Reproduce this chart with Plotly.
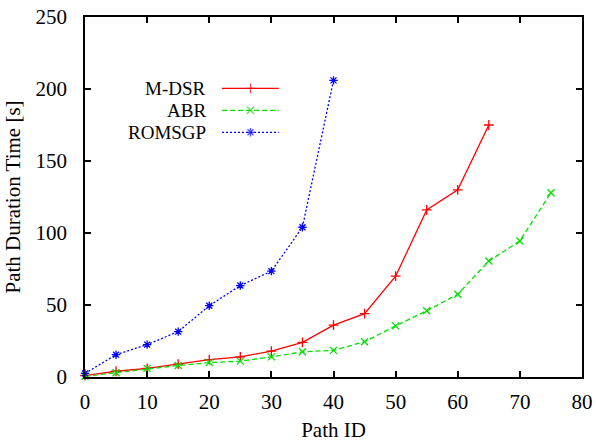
import plotly.graph_objects as go

path_id_mdsr = [0, 5, 10, 15, 20, 25, 30, 35, 40, 45, 50, 55, 60, 65]
mdsr = [1, 4, 6, 9, 12, 14, 18, 24, 36, 44, 70, 116, 130, 175]

path_id_abr = [0, 5, 10, 15, 20, 25, 30, 35, 40, 45, 50, 55, 60, 65, 70, 75]
abr = [0.5, 3, 6, 8, 10, 11, 14, 17.5, 18.5, 24.5, 35.5, 46, 57.5, 80.5, 94.5, 128]

path_id_romsgp = [0, 5, 10, 15, 20, 25, 30, 35, 40]
romsgp = [2.5, 15.5, 22.5, 31.5, 49.5, 63.5, 73.5, 104, 206]

series_names = ["M-DSR", "ABR", "ROMSGP"]
x_ticks = [0, 10, 20, 30, 40, 50, 60, 70, 80]
y_ticks = [0, 50, 100, 150, 200, 250]

FONT = "Liberation Serif"
FS = 21
KEY_FS = 19
colors = ["#ff0000", "#00e000", "#0000ff"]
dashes = ["solid", "5px,3px", "2px,2px"]
symbols = ["cross-thin-open", "x-thin-open", "asterisk-open"]

fig = go.Figure()
datasets = [(path_id_mdsr, mdsr), (path_id_abr, abr), (path_id_romsgp, romsgp)]
for (xs, ys), name, c, d, s in zip(datasets, series_names, colors, dashes, symbols):
    fig.add_trace(go.Scatter(
        x=xs, y=ys, name=name, mode="lines+markers",
        line=dict(color=c, width=1.3, dash=d),
        marker=dict(symbol=s, size=7, color=c, line=dict(color=c, width=1.3)),
        cliponaxis=False, showlegend=False,
    ))

# custom gnuplot-style key (text on left, sample on right)
key_y = [0.8019, 0.7408, 0.6797]
lx0, lxm, lx1 = 0.2757, 0.333, 0.390
for name, c, d, s, ky in zip(series_names, colors, dashes, symbols, key_y):
    fig.add_trace(go.Scatter(
        x=[lx0, lxm, lx1], y=[ky, ky, ky], mode="lines+markers",
        line=dict(color=c, width=1.3, dash=d),
        marker=dict(symbol=s, size=[0, 7, 0], color=c, line=dict(color=c, width=1.3)),
        xaxis="x2", yaxis="y2", showlegend=False, hoverinfo="skip",
    ))
    fig.add_annotation(
        x=0.2475, y=ky, xref="paper", yref="paper", text=name,
        showarrow=False, xanchor="right", yanchor="middle",
        font=dict(family=FONT, size=KEY_FS, color="black"),
    )

axis_common = dict(
    showline=True, linecolor="black", linewidth=1.5, mirror="allticks",
    ticks="inside", ticklen=6, tickwidth=1.5, tickcolor="black",
    showgrid=False, zeroline=False, automargin=False,
    tickfont=dict(family=FONT, size=FS, color="black"),
)

fig.update_layout(
    width=596, height=442,
    margin=dict(l=85, r=14, t=17, b=65),
    paper_bgcolor="white", plot_bgcolor="white",
    font=dict(family=FONT, size=FS, color="black"),
    xaxis=dict(range=[0, 80], tickvals=x_ticks, ticklabelstandoff=5, **axis_common,
               title=dict(text="Path ID", font=dict(family=FONT, size=FS), standoff=10)),
    yaxis=dict(range=[0, 250], tickvals=y_ticks, ticklabelstandoff=12, **axis_common,
               title=dict(text="Path Duration Time [s]", font=dict(family=FONT, size=FS), standoff=9)),
    xaxis2=dict(range=[0, 1], overlaying="x", visible=False),
    yaxis2=dict(range=[0, 1], overlaying="y", visible=False),
)

fig.write_html("out.html")
